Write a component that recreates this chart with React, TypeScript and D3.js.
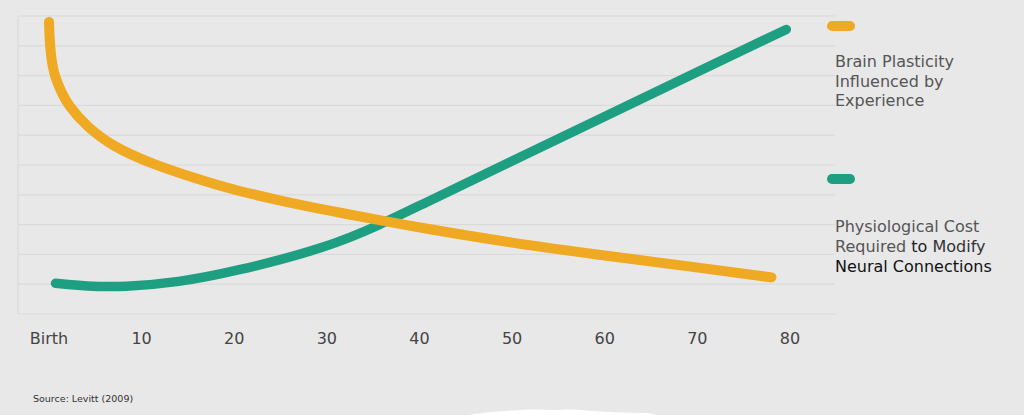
import * as d3 from 'd3';

// ages in years (0 = birth), values on a 0-100 relative scale
const plasticityAges = [0, 0.05, 0.2, 0.4, 0.65, 1.37, 2, 4, 7, 11, 16, 20, 25, 30, 36, 40, 50, 60, 70, 78];
const plasticityValues = [98, 93, 87, 83, 79.6, 74.2, 70.4, 63, 56, 50.5, 45.3, 41.6, 38.0, 34.8, 31.3, 29.0, 23.8, 19.6, 15.6, 12.3];

const costAges = [0.7, 4, 8, 14, 20, 30, 36, 40, 50, 60, 70, 79.6];
const costValues = [10.3, 9.3, 9.0, 10.6, 14.2, 22.2, 30.3, 36.4, 51.3, 66.3, 81.2, 95.5];

const tickValues = [0, 10, 20, 30, 40, 50, 60, 70, 80];
const tickLabels = ['Birth', '10', '20', '30', '40', '50', '60', '70', '80'];
const gridValues = [10, 20, 30, 40, 50, 60, 70, 80, 90, 100];

const legendPlasticity = ['Brain Plasticity', 'Influenced by', 'Experience'];

const ORANGE = '#F0A923';
const TEAL = '#1E9F82';
const FONT = '"DejaVu Sans", Verdana, sans-serif';

const W = 1024;
const H = 415;
const plot = { left: 18, right: 835, top: 16, bottom: 314 };

export default function App() {
  const x = d3.scaleLinear().domain([0, 80]).range([49, 790]);
  const y = d3.scaleLinear().domain([0, 100]).range([plot.bottom, plot.top]);

  const line = d3
    .line<[number, number]>()
    .x((d) => x(d[0]))
    .y((d) => y(d[1]))
    .curve(d3.curveBasis);

  const plasticity = plasticityAges.map((a, i) => [a, plasticityValues[i]] as [number, number]);
  const cost = costAges.map((a, i) => [a, costValues[i]] as [number, number]);

  return (
    <svg
      width={W}
      height={H}
      viewBox={`0 0 ${W} ${H}`}
      style={{ position: 'absolute', left: 0, top: 0, display: 'block' }}
      fontFamily={FONT}
    >
      <rect width={W} height={H} fill="#E8E8E8" />

      {/* grid */}
      {gridValues.map((v) => (
        <line key={v} x1={plot.left} x2={plot.right} y1={y(v)} y2={y(v)} stroke="#DADADA" strokeWidth={1.2} />
      ))}
      <line x1={plot.left} x2={plot.left} y1={plot.top} y2={plot.bottom} stroke="#DADADA" strokeWidth={1.2} />
      <line x1={plot.left} x2={plot.right} y1={plot.bottom} y2={plot.bottom} stroke="#DADADA" strokeWidth={1.2} />

      {/* series */}
      <path d={line(cost) ?? ''} fill="none" stroke={TEAL} strokeWidth={9.5} strokeLinecap="round" strokeLinejoin="round" />
      <path d={line(plasticity) ?? ''} fill="none" stroke={ORANGE} strokeWidth={10} strokeLinecap="round" strokeLinejoin="round" />

      {/* x axis labels */}
      {tickValues.map((t, i) => (
        <text key={t} x={x(t)} y={344} textAnchor="middle" fontSize={16} fill="#444">
          {tickLabels[i]}
        </text>
      ))}

      {/* legend */}
      <line x1={832} x2={850} y1={26} y2={26} stroke={ORANGE} strokeWidth={10} strokeLinecap="round" />
      {legendPlasticity.map((s, i) => (
        <text key={s} x={835} y={67 + i * 19.5} fontSize={16} fill="#555">
          {s}
        </text>
      ))}
      <line x1={832} x2={850} y1={179} y2={179} stroke={TEAL} strokeWidth={10} strokeLinecap="round" />
      <text x={835} y={232} fontSize={16} fill="#555">Physiological Cost</text>
      <text x={835} y={252} fontSize={16} fill="#555">
        Required <tspan fill="#222">to</tspan><tspan fill="#333"> Modify</tspan>
      </text>
      <text x={835} y={272} fontSize={16} fill="#111">Neural Connections</text>

      <text x={33} y={402} fontSize={9.5} fill="#333">Source: Levitt (2009)</text>

      {/* torn white edge at the bottom */}
      <path
        d="M470,415 C490,411 510,411 520,410 C535,409 545,410 560,410 C572,409 580,410 592,411 C610,412 630,413 648,413 L657,415 Z"
        fill="#FFFFFF"
      />
    </svg>
  );
}
